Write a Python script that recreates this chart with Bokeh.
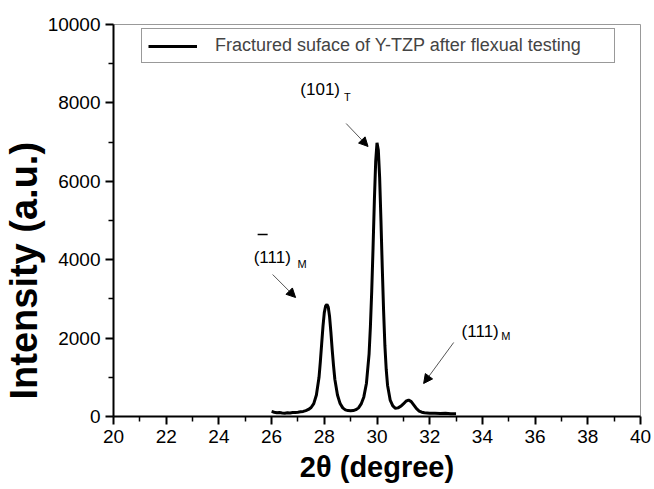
from bokeh.plotting import figure
from bokeh.models import (Range1d, Label, Arrow, NormalHead, Legend, LegendItem,
                          FixedTicker, Title)
from bokeh.embed import file_html
from bokeh.resources import INLINE

# ---- data ----
two_theta = [26.0, 26.1, 26.2, 26.3, 26.4, 26.5, 26.6, 26.7, 26.8, 26.9,
             27.0, 27.1, 27.2, 27.3, 27.4, 27.5, 27.6, 27.7, 27.8, 27.85,
             27.9, 27.95, 28.0, 28.05, 28.1, 28.15, 28.2, 28.25, 28.3, 28.35,
             28.4, 28.5, 28.6, 28.7, 28.8, 28.9, 29.0, 29.1, 29.2, 29.3,
             29.4, 29.5, 29.6, 29.7, 29.75, 29.8, 29.85, 29.9, 29.95, 30.0,
             30.05, 30.1, 30.15, 30.2, 30.25, 30.3, 30.35, 30.4, 30.5, 30.6,
             30.7, 30.8, 30.9, 31.0, 31.1, 31.2, 31.3, 31.4, 31.5, 31.6,
             31.7, 31.8, 31.9, 32.0, 32.2, 32.4, 32.6, 32.8, 33.0]
intensity = [130, 110, 95, 100, 90, 85, 95, 90, 100, 105,
             110, 120, 130, 150, 180, 230, 330, 550, 1000, 1400,
             1850, 2300, 2650, 2820, 2860, 2790, 2550, 2150, 1700, 1300,
             950, 550, 330, 220, 170, 150, 145, 150, 175, 220,
             320, 500, 850, 1600, 2300, 3200, 4300, 5500, 6500, 6980,
             6800, 6100, 5000, 3800, 2700, 1800, 1200, 800, 420, 270,
             210, 220, 260, 320, 390, 420, 380, 290, 200, 140,
             110, 95, 90, 85, 80, 75, 80, 70, 70]
legend_text = "Fractured suface of Y-TZP after flexual testing"
x_ticks = [20, 22, 24, 26, 28, 30, 32, 34, 36, 38, 40]
x_minor = [21, 23, 25, 27, 29, 31, 33, 35, 37, 39]
y_ticks = [0, 2000, 4000, 6000, 8000, 10000]
y_minor = [1000, 3000, 5000, 7000, 9000]
x_title = "2θ (degree)"
y_title = "Intensity (a.u.)"

# annotations: (label, subscript, text x, text y, sub x, sub y)
peak_labels = [("(111)", "M", 25.32, 4056, 26.98, 3903),
               ("(101)", "T", 27.09, 8342, 28.75, 8163),
               ("(111)", "M", 33.21, 2168, 34.72, 2066)]
# arrows: (x_start, y_start, x_end, y_end)
peak_arrows = [(26.04, 3622, 26.91, 3036),
               (28.83, 7474, 29.66, 6888),
               (32.91, 1888, 31.77, 842)]
overbar = (25.47, 4643, 25.85, 4643)

FONT = "Liberation Sans"

p = figure(width=654, height=489, output_backend="svg", toolbar_location=None,
           x_range=Range1d(20, 40), y_range=Range1d(0, 10000),
           min_border_left=110, min_border_right=14, min_border_top=24,
           min_border_bottom=73)
p.xgrid.visible = False
p.ygrid.visible = False
p.outline_line_color = "#999999"
p.outline_line_width = 1
p.background_fill_color = "white"
p.border_fill_color = "white"

r = p.line(two_theta, intensity, line_color="black", line_width=3)

for ax, ticks, minor in ((p.xaxis[0], x_ticks, x_minor), (p.yaxis[0], y_ticks, y_minor)):
    ax.ticker = FixedTicker(ticks=ticks, minor_ticks=minor)
    ax.axis_line_width = 2
    ax.axis_line_color = "black"
    ax.major_tick_line_width = 2
    ax.major_tick_line_color = "black"
    ax.minor_tick_line_width = 1.5
    ax.minor_tick_line_color = "black"
    ax.major_tick_in = 0
    ax.major_tick_out = 8
    ax.minor_tick_in = 0
    ax.minor_tick_out = 5
    ax.major_label_text_font = FONT
    ax.major_label_text_font_size = "19px"
    ax.major_label_text_color = "black"
    ax.major_label_standoff = 5

p.add_layout(Title(text=x_title, align="center", vertical_align="bottom", standoff=6,
                   text_font=FONT, text_font_size="29px", text_font_style="bold",
                   text_color="black"), "below")

p.add_layout(Title(text=y_title, align="left", offset=17, standoff=0,
                   text_font=FONT, text_font_size="38px", text_font_style="bold",
                   text_color="black"), "left")

legend = Legend(items=[LegendItem(label=legend_text, renderers=[r])],
                location=(28, 353), padding=6, glyph_width=49, glyph_height=20,
                label_height=20, label_width=393, label_standoff=18,
                label_text_font=FONT, label_text_font_size="18px",
                border_line_color="#333333", border_line_width=1,
                background_fill_alpha=1.0)
p.add_layout(legend)

for txt, sub, tx, ty, sx, sy in peak_labels:
    p.add_layout(Label(x=tx, y=ty, text=txt, text_font=FONT, text_font_size="17px",
                       text_baseline="alphabetic", text_color="black"))
    p.add_layout(Label(x=sx, y=sy, text=sub, text_font=FONT, text_font_size="11px",
                       text_baseline="alphabetic", text_color="black"))

for xs, ys, xe, ye in peak_arrows:
    p.add_layout(Arrow(x_start=xs, y_start=ys, x_end=xe, y_end=ye,
                       line_color="#555555", line_width=1,
                       end=NormalHead(size=9, fill_color="black", line_color="black")))

p.add_layout(Arrow(x_start=overbar[0], y_start=overbar[1], x_end=overbar[2], y_end=overbar[3],
                   line_color="black", line_width=1.5, end=None))

open("out.html", "w").write(file_html(p, INLINE))
